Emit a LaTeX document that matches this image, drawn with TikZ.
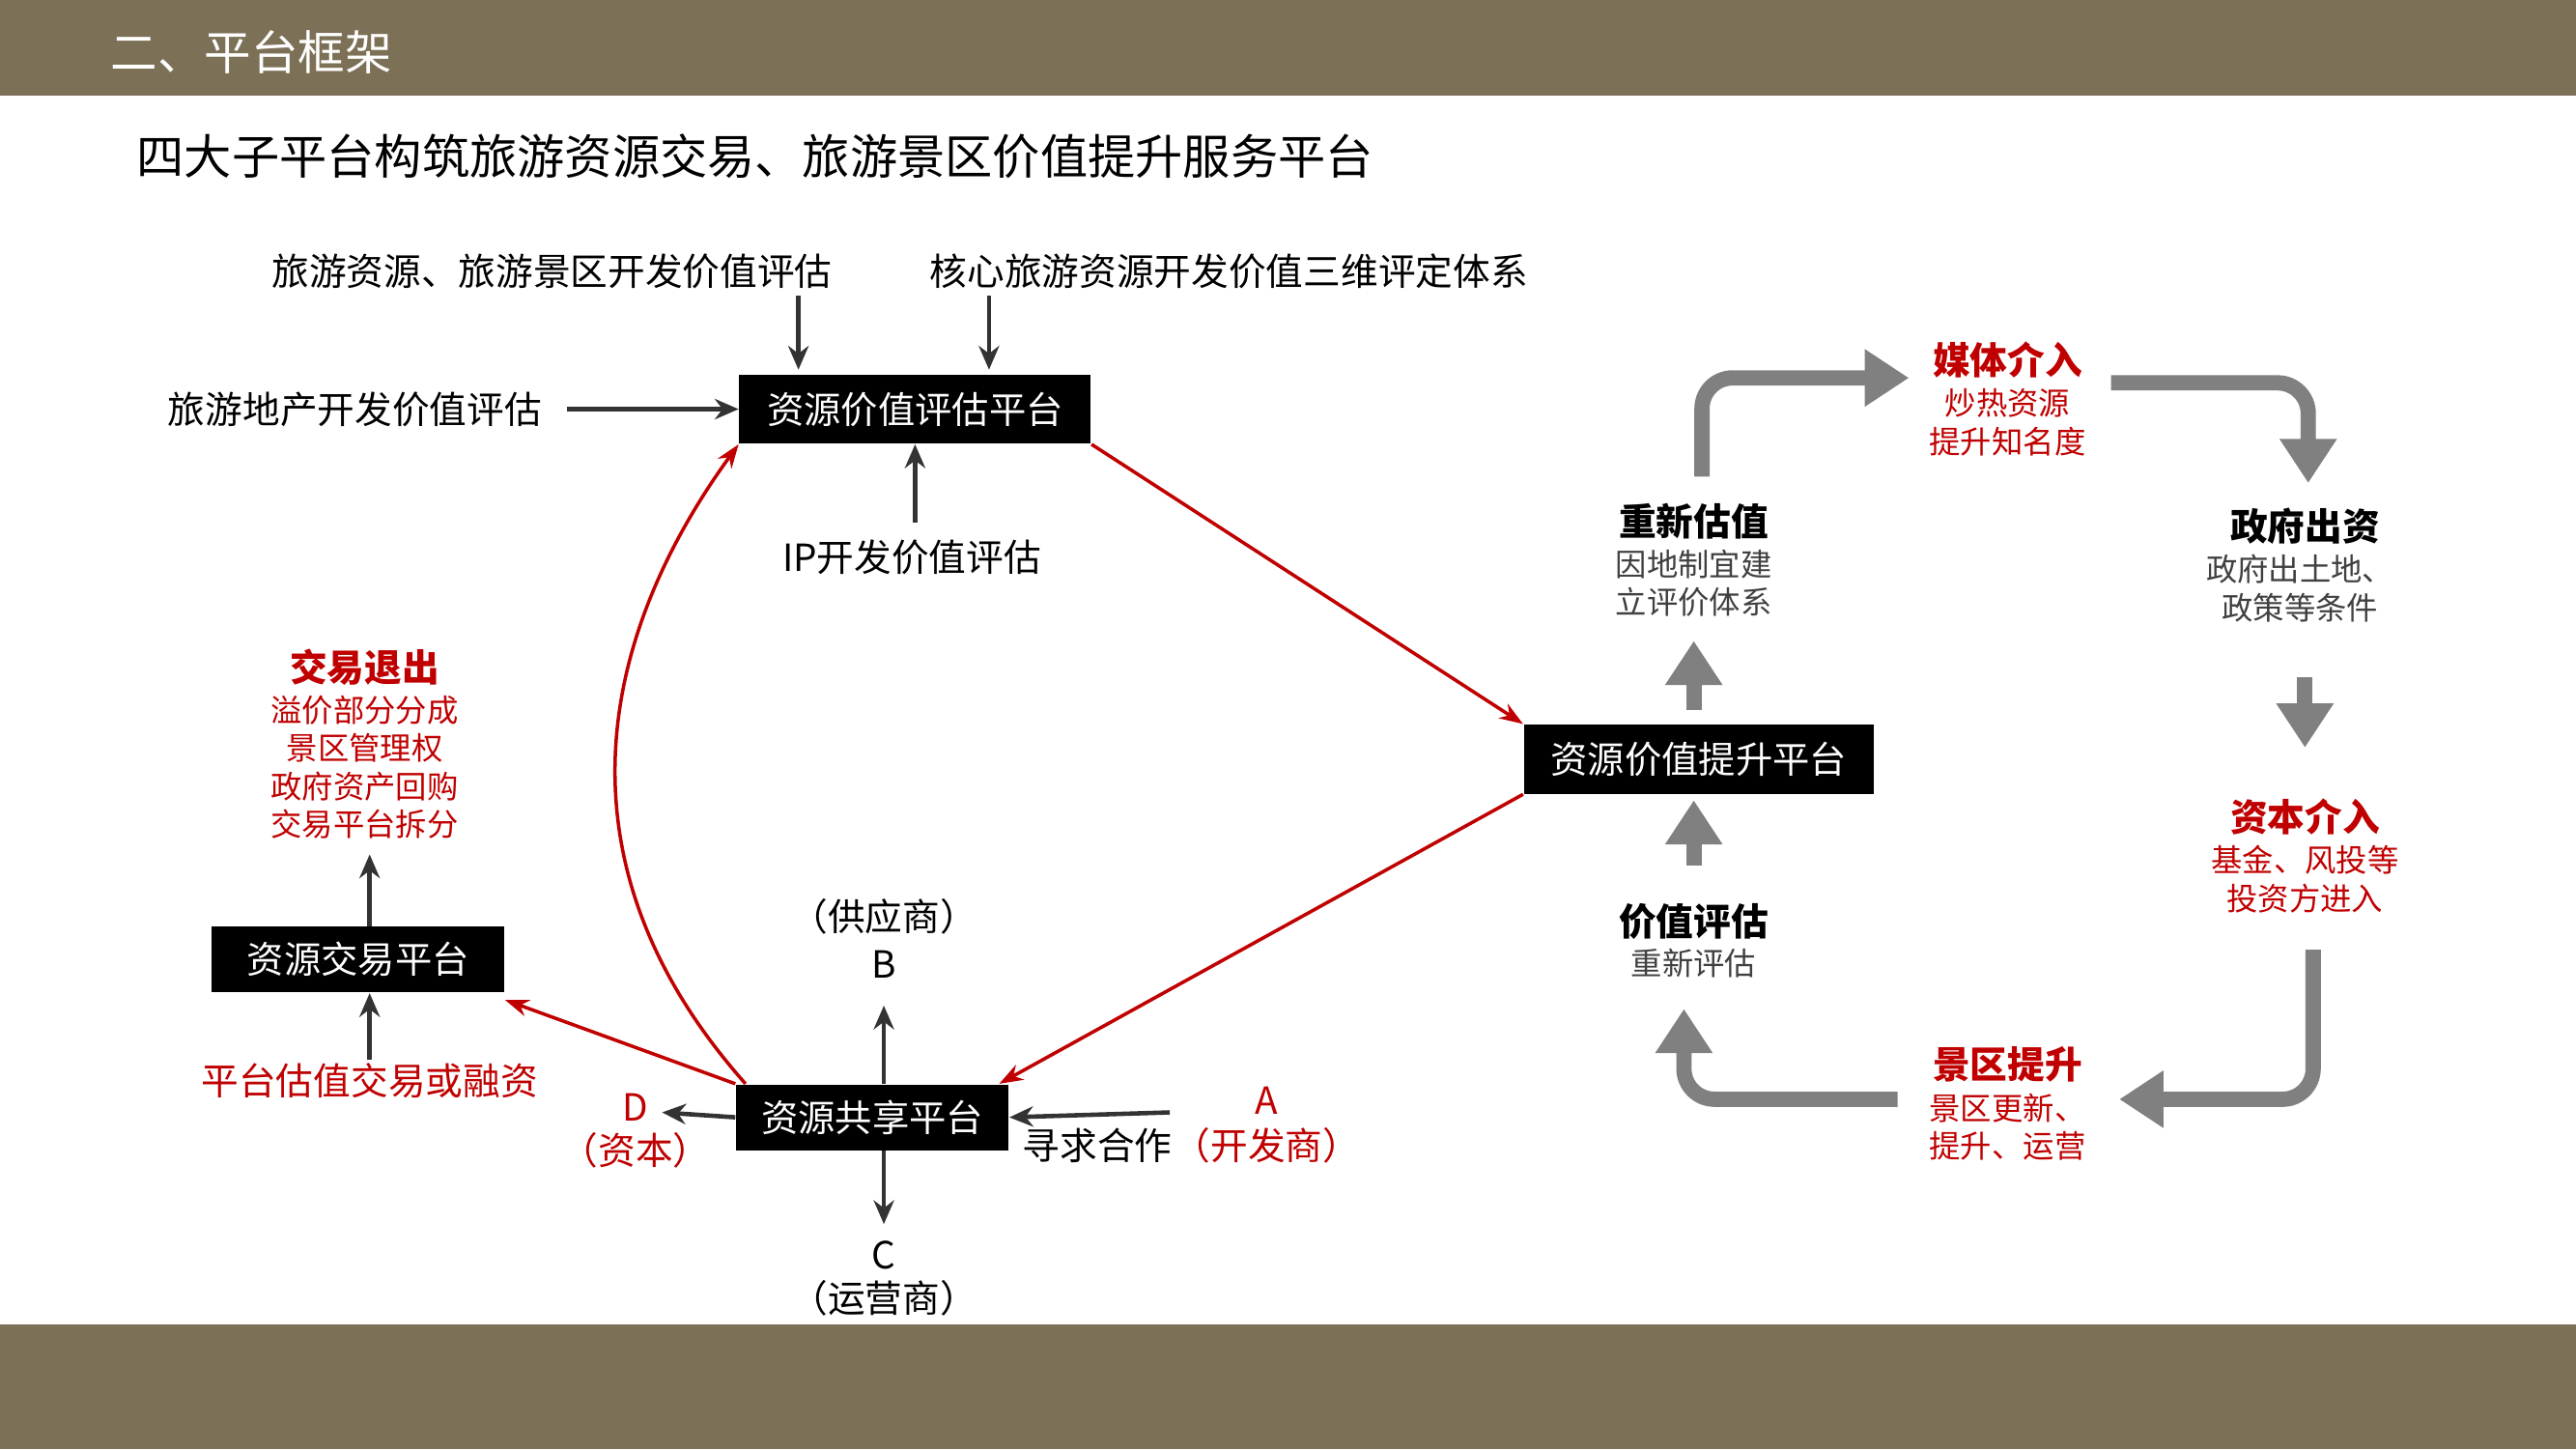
\documentclass[tikz,border=0pt]{standalone}
\usepackage{fontspec}
\setmainfont{Noto Sans CJK SC}
\newfontfamily\cjk{Noto Sans CJK SC}
\usetikzlibrary{arrows.meta}
\definecolor{bar}{RGB}{124,112,86}
\definecolor{dred}{RGB}{192,0,0}
\definecolor{gry}{RGB}{128,128,128}
\tikzset{
 plat/.style={fill=black,text=white,font=\fontsize{10.9}{12}\selectfont,inner sep=0pt},
 lab/.style={font=\fontsize{11}{12}\selectfont,inner sep=1pt},
 sub/.style={font=\fontsize{9.2}{11.2}\selectfont,text=black!75,align=center,inner sep=0pt},
 rsub/.style={sub,text=dred},
 hd/.style={font=\fontsize{11}{12}\selectfont\bfseries,inner sep=0pt},
 rhd/.style={hd,text=dred},
 blk/.style={-{Stealth[length=7pt,width=6pt]},line width=1.3pt,black!80},
 rl/.style={-{Stealth[length=7pt,width=5pt]},line width=1pt,dred},
 ga/.style={-{Triangle[length=13pt,width=16pt]},line width=4.5pt,gry,rounded corners=9pt},
}
\begin{document}
\begin{tikzpicture}[x=0.017cm,y=-0.017cm]
\useasboundingbox (0,0) rectangle (1568,882);
\fill[white] (0,0) rectangle (1568,882);
\fill[bar] (0,0) rectangle (1568,58);
\fill[bar] (0,806) rectangle (1568,882);
\node[anchor=west,text=white,font=\fontsize{13.8}{15}\selectfont] (hdr) at (60,32) {二、平台框架};
\node[anchor=west,font=\fontsize{14}{16}\selectfont] (ttl) at (76,95) {四大子平台构筑旅游资源交易、旅游景区价值提升服务平台};

% platforms
\node[plat,minimum width=214*0.017cm,minimum height=42*0.017cm] (eval) at (557,249) {资源价值评估平台};
\node[plat,minimum width=213*0.017cm,minimum height=42*0.017cm] (lift) at (1034,462) {资源价值提升平台};
\node[plat,minimum width=178*0.017cm,minimum height=40*0.017cm] (trade) at (218,584) {资源交易平台};
\node[plat,minimum width=166*0.017cm,minimum height=40*0.017cm] (share) at (531,680) {资源共享平台};

% eval inputs
\node[lab] (l1) at (336,165) {旅游资源、旅游景区开发价值评估};
\node[lab] (l2) at (748,165) {核心旅游资源开发价值三维评定体系};
\node[lab] (l3) at (216,249) {旅游地产开发价值评估};
\node[lab] (l4) at (555,339) {IP开发价值评估};
\draw[blk] (486,180) -- (486,225);
\draw[blk] (602,180) -- (602,225);
\draw[blk] (345,249) -- (eval.west);
\draw[blk] (557,318) -- (eval.south -| 557,0);

% red links
\draw[rl] (eval.south east) -- (lift.north west);
\draw[rl] (lift.south west) -- ([xshift=-3pt]share.north east);
\draw[rl] (share.north west) -- ([yshift=-2pt]trade.south east);
\draw[rl] ([xshift=3pt]share.north west) .. controls (330,520) and (370,380) .. (eval.south west);

% trade
\node[rhd] (tx) at (222,406) {交易退出};
\node[rsub] (txs) at (222,467) {溢价部分分成\\景区管理权\\政府资产回购\\交易平台拆分};
\draw[blk] (trade.north -| 225,0) -- (225,520);
\node[lab,text=dred] (fin) at (225,658) {平台估值交易或融资};
\draw[blk] (225,645) -- (trade.south -| 225,0);

% share
\node[lab] (bb) at (538,558) {（供应商）};
\node[lab] (b) at (538,587) {B};
\draw[blk] (share.north -| 538,0) -- (538,612);
\node[lab,text=dred] (d) at (387,674) {D};
\node[lab,text=dred] (dd) at (387,700) {（资本）};
\draw[blk] (share.west) -- (403,677);
\node[lab,text=dred] (a) at (771,670) {A};
\node[lab] (xq) at (668,697) {寻求合作};
\node[lab,text=dred] (aa) at (771,697) {（开发商）};
\draw[blk] (712,677) -- (share.east);
\draw[blk] (share.south -| 538,0) -- (538,745);
\node[lab] (c) at (538,764) {C};
\node[lab] (cc) at (538,790) {（运营商）};

% right cycle
\node[hd] (r1) at (1031,317) {重新估值};
\node[sub] (r1s) at (1031,355) {因地制宜建\\立评价体系};
\node[hd] (r2) at (1031,561) {价值评估};
\node[sub] (r2s) at (1031,586) {重新评估};
\node[rhd] (m1) at (1222,219) {媒体介入};
\node[rsub] (m1s) at (1222,257) {炒热资源\\提升知名度};
\node[hd] (g1) at (1403,320) {政府出资};
\node[sub] (g1s) at (1400,358) {政府出土地、\\政策等条件};
\node[rhd] (k1) at (1403,497) {资本介入};
\node[rsub] (k1s) at (1403,535) {基金、风投等\\投资方进入};
\node[rhd] (j1) at (1222,648) {景区提升};
\node[rsub] (j1s) at (1222,686) {景区更新、\\提升、运营};

\draw[ga] (1031,432) -- (1031,390);
\draw[ga] (1031,527) -- (1031,487);
\draw[ga] (1036,290) -- (1036,230) -- (1162,230);
\draw[ga] (1285,233) -- (1405,233) -- (1405,294);
\draw[ga] (1403,412) -- (1403,455);
\draw[ga] (1408,578) -- (1408,669) -- (1290,669);
\draw[ga] (1155,669) -- (1025,669) -- (1025,614);
\end{tikzpicture}
\end{document}
